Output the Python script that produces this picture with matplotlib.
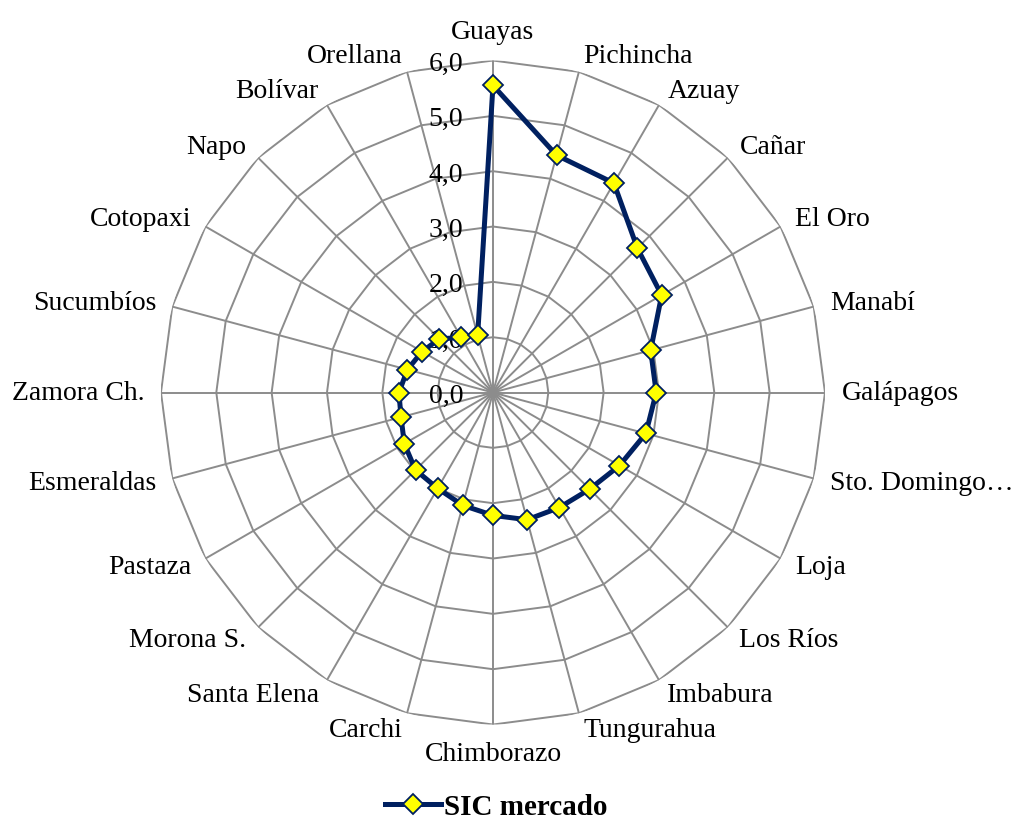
import numpy as np
import matplotlib
matplotlib.use("Agg")
import matplotlib.pyplot as plt
from matplotlib.lines import Line2D

plt.rcParams['font.family'] = ['Liberation Serif', 'DejaVu Serif']

# Provincias y valor del indicador SIC de mercado
provincias = ['Guayas', 'Pichincha', 'Azuay', 'Cañar', 'El Oro', 'Manabí',
              'Galápagos', 'Sto. Domingo…', 'Loja', 'Los Ríos', 'Imbabura',
              'Tungurahua', 'Chimborazo', 'Carchi', 'Santa Elena', 'Morona S.',
              'Pastaza', 'Esmeraldas', 'Zamora Ch.', 'Sucumbíos', 'Cotopaxi',
              'Napo', 'Bolívar', 'Orellana']
sic_mercado = [5.55, 4.44, 4.37, 3.69, 3.52, 2.95,
               2.95, 2.86, 2.64, 2.47, 2.40,
               2.38, 2.22, 2.11, 2.00, 1.98,
               1.85, 1.72, 1.70, 1.60, 1.48,
               1.37, 1.15, 1.07]
niveles = [0, 1, 2, 3, 4, 5, 6]
etiquetas_nivel = ['0,0', '1,0', '2,0', '3,0', '4,0', '5,0', '6,0']

azul = '#002060'
gris = '#8c8c8c'

n = len(provincias)
angulos = np.arange(n) * 2 * np.pi / n
cerrado = np.append(angulos, angulos[0])

fig = plt.figure(figsize=(10.13, 8.29), dpi=100)
ax = fig.add_axes([0.1589, 0.1248, 0.6555, 0.801], projection='polar')
ax.set_theta_zero_location('N')
ax.set_theta_direction(-1)
ax.set_ylim(0, 6)
ax.grid(False)
ax.set_xticks([])
ax.set_yticks([])
ax.spines['polar'].set_visible(False)

# Rejilla poligonal y radios
for r in niveles[1:]:
    ax.plot(cerrado, [r] * (n + 1), color=gris, lw=1.4, zorder=1)
for a in angulos:
    ax.plot([a, a], [0, 6], color=gris, lw=1.4, zorder=1)

# Serie (polígono cerrado)
valores = np.append(sic_mercado, sic_mercado[0])
ax.plot(cerrado, valores, color=azul, lw=3.6, zorder=3,
        solid_joinstyle='miter')
ax.plot(angulos, sic_mercado, ls='none', marker='D', ms=10,
        mfc='#ffff00', mec=azul, mew=1.3, zorder=4)

# Etiquetas de nivel junto al eje vertical
for r, t in zip(niveles, etiquetas_nivel):
    ax.annotate(t, xy=(0, r), xytext=(-21.5, -2), textcoords='offset points',
                ha='right', va='center', fontsize=20, zorder=2)

# Etiquetas de categorías
for a, nombre in zip(angulos, provincias):
    grados = np.degrees(a)
    if np.isclose(grados, 0):
        ha, va = 'center', 'bottom'
    elif np.isclose(grados, 180):
        ha, va = 'center', 'top'
    elif grados < 180:
        ha, va = 'left', 'center'
    else:
        ha, va = 'right', 'center'
    ax.text(a, 6.3, nombre, ha=ha, va=va, fontsize=20)

handle = Line2D([], [], color=azul, lw=3.6, marker='D', ms=10,
                mfc='#ffff00', mec=azul, mew=1.3)
fig.legend([handle], ['SIC mercado'], loc='lower center',
           bbox_to_anchor=(0.49, -0.022), frameon=False,
           prop={'size': 21, 'weight': 'bold'}, handlelength=1.9,
           handletextpad=0.1)

fig.savefig('out.png', dpi=100)
